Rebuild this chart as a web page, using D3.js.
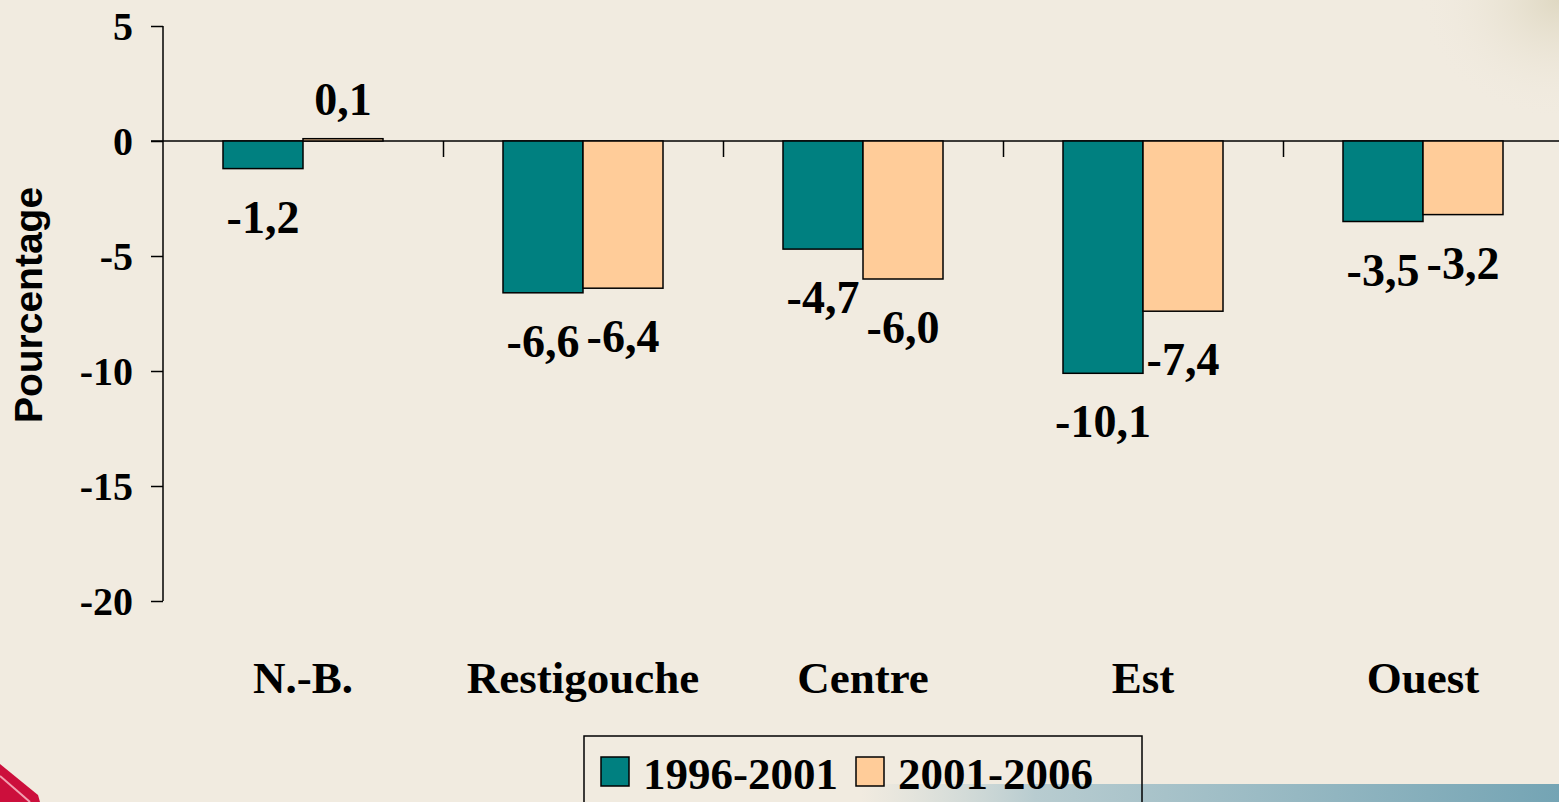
<!DOCTYPE html>
<html>
<head>
<meta charset="utf-8">
<script src="https://cdn.jsdelivr.net/npm/d3@7"></script>
<style>
	html, body { margin: 0; padding: 0; background: #f1ebe0; }
	svg { display: block; }
</style>
</head>
<body>
<svg id="chart"></svg>
<script>
// data
var categories = ["N.-B.", "Restigouche", "Centre", "Est", "Ouest"];
var seriesNames = ["1996-2001", "2001-2006"];
var values1996 = [-1.2, -6.6, -4.7, -10.1, -3.5];
var values2001 = [0.1, -6.4, -6.0, -7.4, -3.2];
var yTicks = [5, 0, -5, -10, -15, -20];
var yTitle = "Pourcentage";

var width = 1559,
	height = 802,
	colors = ["#008080", "#ffcc99"],
	serif = "'Liberation Serif', 'Times New Roman', serif",
	sans = "'Liberation Sans', Arial, sans-serif";

var rows = categories.map(function(c, i){
	return { cat: c, vals: [values1996[i], values2001[i]] };
});

var svg = d3.select('#chart')
	.attr('width', width)
	.attr('height', height);

// background decorations
var defs = svg.append('defs');
var blue = defs.append('linearGradient').attr('id', 'blueBar');
blue.append('stop').attr('offset', '0%').attr('stop-color', '#c9d6d6').attr('stop-opacity', 0);
blue.append('stop').attr('offset', '25%').attr('stop-color', '#b8ccd0').attr('stop-opacity', 1);
blue.append('stop').attr('offset', '100%').attr('stop-color', '#74a4b4');
var corner = defs.append('radialGradient').attr('id', 'corner');
corner.append('stop').attr('offset', '0%').attr('stop-color', '#ddd6bf').attr('stop-opacity', 0.9);
corner.append('stop').attr('offset', '100%').attr('stop-color', '#f1ebe0').attr('stop-opacity', 0);

svg.append('rect').attr('width', width).attr('height', height).attr('fill', '#f1ebe0');
svg.append('ellipse').attr('cx', 1559).attr('cy', 0).attr('rx', 140).attr('ry', 120).attr('fill', 'url(#corner)');
svg.append('rect').attr('x', 860).attr('y', 784).attr('width', 700).attr('height', 18).attr('fill', 'url(#blueBar)');
svg.append('path').attr('d', 'M0,764 L38,795 L40,802 L0,802 Z').attr('fill', '#cc0f3c');
svg.append('path').attr('d', 'M0,776 L30,802').attr('stroke', '#f2a0b0').attr('stroke-width', 2);

// scales
var y = d3.scaleLinear()
	.domain([-20, 5])
	.range([601, 26]);

var x0 = d3.scaleBand()
	.domain(categories)
	.range([163, 1563])
	.paddingInner(120 / 280)
	.paddingOuter(60 / 280);

var x1 = d3.scaleBand()
	.domain(seriesNames)
	.range([0, x0.bandwidth()]);

// y axis
var yAxis = d3.axisLeft(y)
	.tickValues(yTicks)
	.tickSize(12)
	.tickPadding(18)
	.tickFormat(function(d){ return String(d); });

var gy = svg.append('g')
	.attr('transform', 'translate(163,0)')
	.call(yAxis);
gy.select('.domain').attr('d', 'M0,' + y(5) + 'V' + y(-20)).attr('stroke', '#000').attr('stroke-width', 1.5);
gy.selectAll('.tick line').attr('stroke', '#000').attr('stroke-width', 1.5);
gy.selectAll('.tick text')
	.attr('font-family', serif)
	.attr('font-weight', 'bold')
	.attr('font-size', 40)
	.attr('fill', '#000')
	.attr('dy', '0.34em');

// zero line with category separators
var sep = d3.scaleLinear().domain([0, categories.length]).range([163, 1563]);
var xAxis = d3.axisBottom(sep)
	.tickValues([1, 2, 3, 4])
	.tickSize(16)
	.tickSizeOuter(0)
	.tickFormat('');
var gx = svg.append('g')
	.attr('transform', 'translate(0,' + y(0) + ')')
	.call(xAxis);
gx.select('.domain').attr('d', 'M151,0H1563').attr('stroke', '#000').attr('stroke-width', 1.5);
gx.selectAll('.tick line').attr('stroke', '#000').attr('stroke-width', 1.5);

// bars
var group = svg.selectAll('.cat')
	.data(rows)
	.enter().append('g')
	.attr('class', 'cat')
	.attr('transform', function(d){ return 'translate(' + x0(d.cat) + ',0)'; });

var bar = group.selectAll('.bar')
	.data(function(d){
		return d.vals.map(function(v, i){ return { v: v, s: seriesNames[i], i: i }; });
	})
	.enter();

bar.append('rect')
	.attr('class', 'bar')
	.attr('x', function(d){ return x1(d.s); })
	.attr('width', x1.bandwidth())
	.attr('y', function(d){ return Math.min(y(d.v), y(0)); })
	.attr('height', function(d){ return Math.abs(y(d.v) - y(0)); })
	.attr('fill', function(d){ return colors[d.i]; })
	.attr('stroke', '#000')
	.attr('stroke-width', 1.5);

bar.append('text')
	.attr('x', function(d){ return x1(d.s) + x1.bandwidth() / 2; })
	.attr('y', function(d){ return d.v < 0 ? y(d.v) + 64 : y(d.v) - 24; })
	.attr('text-anchor', 'middle')
	.attr('font-family', serif)
	.attr('font-weight', 'bold')
	.attr('font-size', 46)
	.text(function(d){ return d.v.toFixed(1).replace('.', ','); });

// category labels
var gc = svg.append('g')
	.attr('transform', 'translate(0,0)')
	.call(d3.axisBottom(x0).tickSize(0));
gc.select('.domain').remove();
gc.selectAll('.tick text')
	.attr('y', 693)
	.attr('dy', 0)
	.attr('font-family', serif)
	.attr('font-weight', 'bold')
	.attr('font-size', 45)
	.attr('fill', '#000');

// y title
svg.append('text')
	.attr('transform', 'translate(42,305) rotate(-90)')
	.attr('text-anchor', 'middle')
	.attr('font-family', sans)
	.attr('font-weight', 'bold')
	.attr('font-size', 39)
	.text(yTitle);

// legend
var legend = svg.append('g').attr('transform', 'translate(584,736)');
legend.append('rect')
	.attr('width', 558)
	.attr('height', 80)
	.attr('fill', 'none')
	.attr('stroke', '#000')
	.attr('stroke-width', 1.5);

var item = legend.selectAll('.item')
	.data(seriesNames)
	.enter().append('g')
	.attr('class', 'item')
	.attr('transform', function(d, i){ return 'translate(' + [17, 272][i] + ',21)'; });
item.append('rect')
	.attr('width', 28)
	.attr('height', 29)
	.attr('fill', function(d, i){ return colors[i]; })
	.attr('stroke', '#000')
	.attr('stroke-width', 1.5);
item.append('text')
	.attr('x', 42)
	.attr('y', 32)
	.attr('font-family', serif)
	.attr('font-weight', 'bold')
	.attr('font-size', 45)
	.text(function(d){ return d; });
</script>
</body>
</html>
